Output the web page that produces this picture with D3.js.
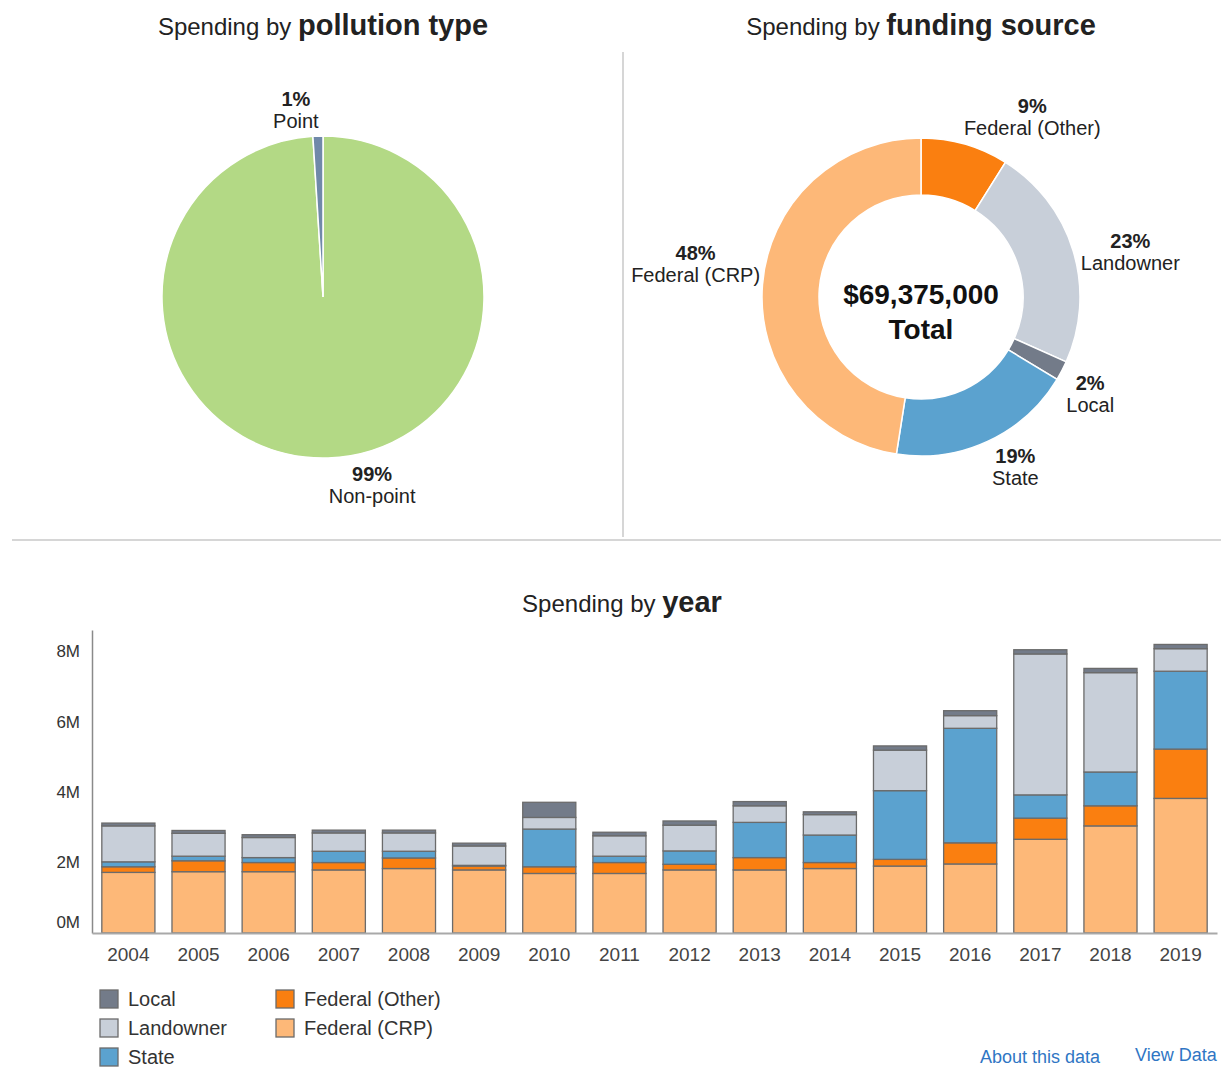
<!DOCTYPE html>
<html>
<head>
<meta charset="utf-8">
<script src="https://cdn.jsdelivr.net/npm/d3@7"></script>
<style>
  html, body { margin: 0; padding: 0; background: #fff; }
  svg { display: block; font-family: "Liberation Sans", Arial, sans-serif; }
  .link { fill: #2f76c4; }
</style>
</head>
<body>
<svg id="chart" width="1221" height="1068"></svg>
<script>
// ---- Data -------------------------------------------------------------
const pollutionTypes = ["Non-point", "Point"];
const pollutionShares = [99, 1];

const fundingSources = ["Federal (Other)", "Landowner", "Local", "State", "Federal (CRP)"];
const fundingShares = [9, 23, 2, 19, 48];
const fundingTotal = "$69,375,000";

const years = ["2004","2005","2006","2007","2008","2009","2010","2011",
               "2012","2013","2014","2015","2016","2017","2018","2019"];
// yearly spending in millions of dollars, by source
const federalCRP   = [1.72,1.74,1.74,1.79,1.83,1.79,1.69,1.69,1.79,1.79,1.83,1.90,1.96,2.66,3.04,3.82];
const federalOther = [0.16,0.31,0.26,0.21,0.30,0.11,0.19,0.31,0.16,0.35,0.17,0.19,0.60,0.60,0.57,1.40];
const state        = [0.14,0.13,0.14,0.32,0.19,0.02,1.07,0.18,0.38,1.00,0.78,1.95,3.25,0.66,0.96,2.21];
const landowner    = [1.02,0.65,0.57,0.52,0.52,0.55,0.33,0.58,0.73,0.47,0.58,1.15,0.36,4.00,2.82,0.64];
const local        = [0.08,0.08,0.08,0.08,0.08,0.08,0.43,0.10,0.12,0.12,0.08,0.12,0.14,0.12,0.12,0.12];

const yTicks = [0, 2, 4, 6, 8];

// ---- Styling ------------------------------------------------------------
const colors = {
  "Federal (CRP)": "#fdb878",
  "Federal (Other)": "#fa7f10",
  "State": "#5ba2cf",
  "Landowner": "#c8cfd9",
  "Local": "#737b89",
  "Non-point": "#b3d985",
  "Point": "#7089a9"
};
const textColor = "#222";

const svg = d3.select("#chart");

// ---- Section dividers -------------------------------------------------
svg.append("line").attr("x1", 623).attr("x2", 623).attr("y1", 52).attr("y2", 537)
  .attr("stroke", "#c9c9c9").attr("stroke-width", 1.5);
svg.append("line").attr("x1", 12).attr("x2", 1221).attr("y1", 540).attr("y2", 540)
  .attr("stroke", "#c9c9c9").attr("stroke-width", 1.5);

// Two-part title: regular lead-in, bold subject
function title(x, y, lead, bold) {
  const t = svg.append("text").attr("x", x).attr("y", y)
    .attr("text-anchor", "middle").attr("fill", textColor);
  t.append("tspan").attr("font-size", 24).text(lead + " ");
  t.append("tspan").attr("font-size", 29).attr("font-weight", "bold").text(bold);
}

// Two-line slice label: bold percent above the name
function sliceLabel(g, x, y, pct, name) {
  const t = g.append("text").attr("text-anchor", "middle").attr("fill", textColor)
    .attr("font-size", 20);
  t.append("tspan").attr("x", x).attr("y", y - 4).attr("font-weight", "bold").text(pct + "%");
  t.append("tspan").attr("x", x).attr("y", y + 18).text(name);
}

// ---- Pie: spending by pollution type ------------------------------------
title(323, 35, "Spending by", "pollution type");
{
  const cx = 323, cy = 297, r = 161;
  const g = svg.append("g").attr("transform", `translate(${cx},${cy})`);
  const pie = d3.pie().sort(null).value((d, i) => pollutionShares[i]);
  const arcs = pie(pollutionTypes);
  const arc = d3.arc().innerRadius(0).outerRadius(r);
  g.selectAll("path").data(arcs).join("path")
    .attr("d", arc)
    .attr("fill", d => colors[d.data])
    .attr("stroke", "#fff").attr("stroke-width", 1.5);

  const labelArc = d3.arc().innerRadius(195).outerRadius(195);
  const nudge = { "Non-point": [43, -7], "Point": [-21, 8] };
  arcs.forEach(a => {
    const [x, y] = labelArc.centroid(a);
    const n = nudge[a.data];
    sliceLabel(g, x + n[0], y + n[1], a.value, a.data);
  });
}

// ---- Donut: spending by funding source ----------------------------------
title(921, 35, "Spending by", "funding source");
{
  const cx = 921, cy = 297, r = 159, ri = 102;
  const g = svg.append("g").attr("transform", `translate(${cx},${cy})`);
  const pie = d3.pie().sort(null).value((d, i) => fundingShares[i]);
  const arcs = pie(fundingSources);
  const arc = d3.arc().innerRadius(ri).outerRadius(r);
  g.selectAll("path").data(arcs).join("path")
    .attr("d", arc)
    .attr("fill", d => colors[d.data])
    .attr("stroke", "#fff").attr("stroke-width", 1.5);

  const labelArc = d3.arc().innerRadius(200).outerRadius(200);
  const nudge = {
    "Federal (Other)": [56, 12],
    "Landowner": [18, 13],
    "Local": [-8, 4],
    "State": [10, -11],
    "Federal (CRP)": [-26, -17]
  };
  arcs.forEach(a => {
    const [x, y] = labelArc.centroid(a);
    const n = nudge[a.data];
    sliceLabel(g, x + n[0], y + n[1], a.value, a.data);
  });

  g.append("text").attr("text-anchor", "middle").attr("y", 7)
    .attr("font-size", 28).attr("font-weight", "bold").attr("fill", "#111")
    .text(fundingTotal);
  g.append("text").attr("text-anchor", "middle").attr("y", 42)
    .attr("font-size", 28).attr("font-weight", "bold").attr("fill", "#111")
    .text("Total");
}

// ---- Stacked bars: spending by year ------------------------------------
title(622, 612, "Spending by", "year");
{
  const stackKeys = ["Federal (CRP)", "Federal (Other)", "State", "Landowner", "Local"];
  const series = {
    "Federal (CRP)": federalCRP,
    "Federal (Other)": federalOther,
    "State": state,
    "Landowner": landowner,
    "Local": local
  };
  const rows = years.map((y, i) => {
    const row = { year: y };
    stackKeys.forEach(k => row[k] = series[k][i]);
    return row;
  });
  const stacked = d3.stack().keys(stackKeys)(rows);

  const x = d3.scaleBand().domain(years).range([92, 1217])
    .paddingInner(0.243).paddingOuter(0.14);
  const y = d3.scaleLinear().domain([0, 8.6]).range([933, 630]);

  svg.append("g").selectAll("g").data(stacked).join("g")
    .attr("fill", d => colors[d.key])
    .selectAll("rect").data(d => d).join("rect")
    .attr("x", d => x(d.data.year))
    .attr("width", x.bandwidth())
    .attr("y", d => y(d[1]))
    .attr("height", d => y(d[0]) - y(d[1]))
    .attr("stroke", "#6b6b6b").attr("stroke-width", 1.3);

  // y axis: line only, labels in millions
  const yAxis = svg.append("g").attr("transform", "translate(92,0)")
    .call(d3.axisLeft(y).tickValues(yTicks).tickSize(0).tickPadding(12)
      .tickFormat(d => d + "M"));
  yAxis.select(".domain").attr("stroke", "#8a8a8a").attr("stroke-width", 1.5);
  yAxis.selectAll("text").attr("font-size", 17).attr("fill", "#333")
    .attr("font-family", "Liberation Sans, Arial, sans-serif")
    .attr("dy", d => d === 0 ? "-0.3em" : "0.32em");

  // x axis: baseline and year labels
  const xAxis = svg.append("g").attr("transform", "translate(0,933)")
    .call(d3.axisBottom(x).tickSize(0).tickPadding(15));
  xAxis.select(".domain").attr("stroke", "#a9a9a9").attr("stroke-width", 2);
  xAxis.selectAll("text").attr("font-size", 19).attr("fill", "#444")
    .attr("font-family", "Liberation Sans, Arial, sans-serif");

  // legend
  const legendItems = ["Local", "Landowner", "State", "Federal (Other)", "Federal (CRP)"];
  const lg = svg.append("g");
  legendItems.forEach((k, i) => {
    const col = i < 3 ? 0 : 1;
    const row = i < 3 ? i : i - 3;
    const gx = col === 0 ? 100 : 276;
    const gy = 990 + row * 29;
    lg.append("rect").attr("x", gx).attr("y", gy).attr("width", 18).attr("height", 18)
      .attr("fill", colors[k]).attr("stroke", "#6b6b6b").attr("stroke-width", 1.3);
    lg.append("text").attr("x", gx + 28).attr("y", gy + 16)
      .attr("font-size", 20).attr("fill", "#333").text(k);
  });

  svg.append("text").attr("class", "link").attr("x", 980).attr("y", 1063)
    .attr("font-size", 18).text("About this data");
  svg.append("text").attr("class", "link").attr("x", 1135).attr("y", 1061)
    .attr("font-size", 18).text("View Data");
}
</script>
</body>
</html>
